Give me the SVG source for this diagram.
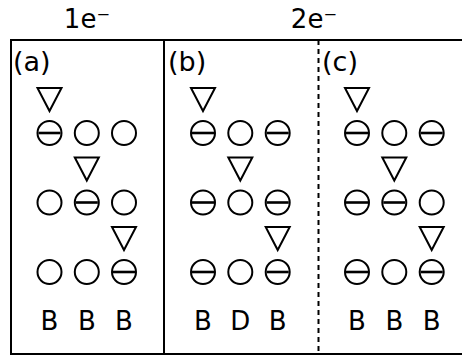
<svg xmlns="http://www.w3.org/2000/svg" xmlns:xlink="http://www.w3.org/1999/xlink" width="462" height="356" viewBox="0 0 462 356">
<style>
text{font-family:"DejaVu Sans","Verdana",sans-serif;fill:#000}
.hd{font-size:26px;text-anchor:middle}
.pl{font-size:27px}
.lb{font-size:26px;text-anchor:middle}
.frame{stroke:#000;stroke-width:2;fill:none}
</style>
<defs>
<g id="o"><circle r="12" fill="#fff" stroke="#000" stroke-width="2"/></g>
<g id="m"><circle r="12" fill="#fff" stroke="#000" stroke-width="2"/><line x1="-11" y1="0" x2="11" y2="0" stroke="#000" stroke-width="2.6"/></g>
<g id="t"><polygon points="-12,-24 12,-24 0,-1" fill="#fff" stroke="#000" stroke-width="2" stroke-linejoin="miter"/></g>
</defs>
<g id="headers">
<text class="hd" x="87" y="28">1e⁻</text>
<text class="hd" x="314" y="28">2e⁻</text>
</g>
<g id="frame">
<line class="frame" x1="11" y1="40" x2="462" y2="40"/>
<line class="frame" x1="11" y1="354" x2="462" y2="354"/>
<line class="frame" x1="11" y1="39" x2="11" y2="355"/>
<line class="frame" x1="164" y1="40" x2="164" y2="354"/>
<line class="frame" x1="318.5" y1="40" x2="318.5" y2="354" stroke-dasharray="5,4"/>
</g>
<g id="panel-a">
<text class="pl" x="13" y="71">(a)</text>
<use xlink:href="#t" x="49.5" y="112"/>
<use xlink:href="#m" x="49.5" y="133"/><use xlink:href="#o" x="86.8" y="133"/><use xlink:href="#o" x="124" y="133"/>
<use xlink:href="#t" x="86.8" y="181.5"/>
<use xlink:href="#o" x="49.5" y="202.5"/><use xlink:href="#m" x="86.8" y="202.5"/><use xlink:href="#o" x="124" y="202.5"/>
<use xlink:href="#t" x="124" y="251"/>
<use xlink:href="#o" x="49.5" y="272"/><use xlink:href="#o" x="86.8" y="272"/><use xlink:href="#m" x="124" y="272"/>
<text class="lb" x="49.5" y="330">B</text><text class="lb" x="86.8" y="330">B</text><text class="lb" x="124" y="330">B</text>
</g>
<g id="panel-b">
<text class="pl" x="168" y="71">(b)</text>
<use xlink:href="#t" x="203" y="112"/>
<use xlink:href="#m" x="203" y="133"/><use xlink:href="#o" x="240.3" y="133"/><use xlink:href="#m" x="277.7" y="133"/>
<use xlink:href="#t" x="240.3" y="181.5"/>
<use xlink:href="#m" x="203" y="202.5"/><use xlink:href="#o" x="240.3" y="202.5"/><use xlink:href="#m" x="277.7" y="202.5"/>
<use xlink:href="#t" x="277.7" y="251"/>
<use xlink:href="#m" x="203" y="272"/><use xlink:href="#o" x="240.3" y="272"/><use xlink:href="#m" x="277.7" y="272"/>
<text class="lb" x="203" y="330">B</text><text class="lb" x="240.3" y="330">D</text><text class="lb" x="277.7" y="330">B</text>
</g>
<g id="panel-c">
<text class="pl" x="322" y="71">(c)</text>
<use xlink:href="#t" x="357" y="112"/>
<use xlink:href="#m" x="357" y="133"/><use xlink:href="#o" x="394.3" y="133"/><use xlink:href="#m" x="431.7" y="133"/>
<use xlink:href="#t" x="394.3" y="181.5"/>
<use xlink:href="#m" x="357" y="202.5"/><use xlink:href="#m" x="394.3" y="202.5"/><use xlink:href="#o" x="431.7" y="202.5"/>
<use xlink:href="#t" x="431.7" y="251"/>
<use xlink:href="#m" x="357" y="272"/><use xlink:href="#o" x="394.3" y="272"/><use xlink:href="#m" x="431.7" y="272"/>
<text class="lb" x="357" y="330">B</text><text class="lb" x="394.3" y="330">B</text><text class="lb" x="431.7" y="330">B</text>
</g>
</svg>
